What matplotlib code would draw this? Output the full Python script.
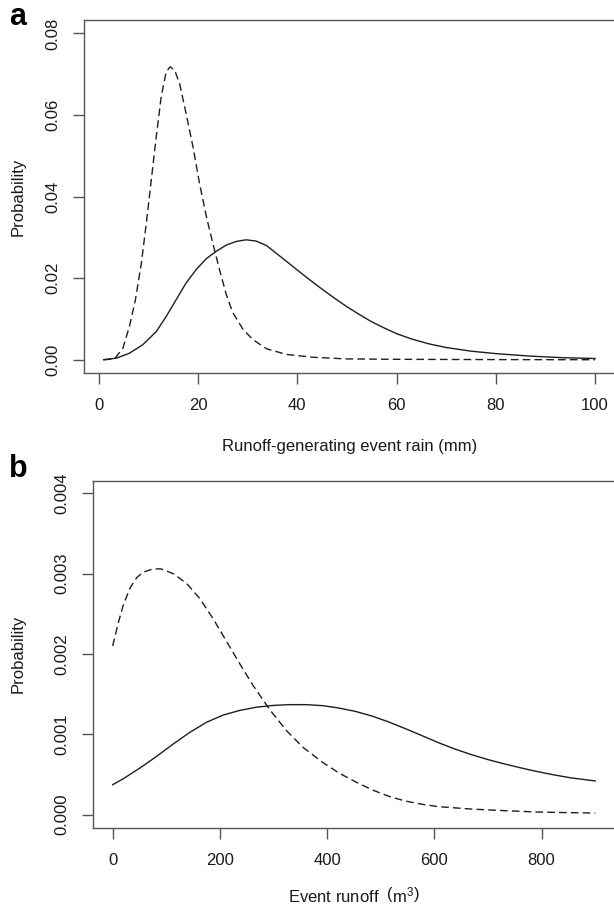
import matplotlib
matplotlib.use("Agg")
import matplotlib.pyplot as plt

plt.rcParams['font.family'] = ['Liberation Sans', 'DejaVu Sans']
plt.rcParams['mathtext.fontset'] = 'custom'
plt.rcParams['mathtext.rm'] = 'Liberation Sans'
plt.rcParams['mathtext.it'] = 'Liberation Sans:italic'

# panel a: runoff-generating event rain (mm)
rain_dash_x = [1, 3.2, 4.9, 6.2, 7.4, 8.6, 9.6, 10.6, 11.6, 12.6, 13.6, 14.4, 15.3, 16.3,
               17.6, 19.0, 20.3, 21.7, 23.0, 24.4, 25.7, 27.0, 29.1, 31.1, 33.8, 37.8,
               43.2, 49.9, 60, 80, 100]
rain_dash_y = [0.0, 0.0002, 0.0029, 0.0082, 0.0147, 0.0237, 0.0335, 0.0441, 0.0547, 0.0645,
               0.0706, 0.0718, 0.0710, 0.0677, 0.0604, 0.0522, 0.0433, 0.0351, 0.0285,
               0.0218, 0.0160, 0.0116, 0.0074, 0.0049, 0.0027, 0.0013, 0.0006, 0.0002,
               0.0001, 0.00003, 0.0]
rain_solid_x = [1, 3.6, 6.2, 8.9, 11.6, 13.6, 15.6, 17.6, 19.7, 21.7, 23.7, 25.7, 27.7, 29.7,
                31.7, 33.8, 36.4, 40, 42.5, 45, 47.5, 50, 52.5, 55, 57.5, 60, 63, 66.5,
                70, 75, 80, 86.7, 93.5, 100]
rain_solid_y = [0.0, 0.0004, 0.0016, 0.0037, 0.0069, 0.0106, 0.0147, 0.0188, 0.0222, 0.0248,
                0.0266, 0.0281, 0.0290, 0.0294, 0.0291, 0.0280, 0.0255, 0.0220, 0.0196,
                0.0173, 0.0151, 0.0130, 0.0111, 0.0093, 0.0078, 0.0064, 0.0051, 0.0039,
                0.0030, 0.0021, 0.0015, 0.0009, 0.0005, 0.0003]

# panel b: event runoff (m3)
runoff_dash_x = [0, 10.5, 19.8, 32.2, 44.7, 57, 75.7, 90, 112.9, 137.7, 162.5, 187.3, 212.1,
                 236.9, 261.7, 292.7, 323.7, 354.7, 391.9, 421.7, 452.6, 483.6, 514.6,
                 545.5, 576.5, 607.4, 669.3, 731.3, 793.2, 855.1, 900]
runoff_dash_y = [0.00210, 0.00239, 0.00261, 0.00282, 0.00295, 0.00302, 0.00306, 0.00306,
                 0.00300, 0.00288, 0.00269, 0.00244, 0.00216, 0.00188, 0.00161, 0.00131,
                 0.00105, 0.00084, 0.00065, 0.00052, 0.00041, 0.00031, 0.00023, 0.00017,
                 0.00013, 0.00010, 0.00007, 0.00005, 0.000033, 0.000025, 0.00002]
runoff_solid_x = [0, 19.8, 50.8, 81.9, 112.9, 143.9, 174.9, 205.9, 236.9, 267.9, 299, 330,
                  361, 392, 421.7, 452.6, 483.6, 514.6, 545.5, 576.5, 607.4, 638.4, 669.3,
                  700.3, 731.3, 762.2, 793.2, 824.2, 855.1, 900]
runoff_solid_y = [0.000373, 0.000448, 0.000581, 0.000726, 0.000880, 0.001025, 0.001150,
                  0.001240, 0.001298, 0.001338, 0.001360, 0.00137, 0.00137, 0.001357,
                  0.001328, 0.001286, 0.001228, 0.001155, 0.001072, 0.000985, 0.000897,
                  0.000817, 0.000747, 0.000685, 0.000631, 0.000581, 0.000535, 0.000494,
                  0.000458, 0.000420]

rain_ticks = [0, 20, 40, 60, 80, 100]
prob_a_ticks = [0.0, 0.02, 0.04, 0.06, 0.08]
runoff_ticks = [0, 200, 400, 600, 800]
prob_b_ticks = [0.0, 0.001, 0.002, 0.003, 0.004]

fig = plt.figure(figsize=(6.14, 9.13), dpi=100)
# box runs just past the right edge of the picture, as in the cropped original
ax1 = fig.add_axes([0.1368, 0.5917, 0.8700, 0.386])
ax2 = fig.add_axes([0.1521, 0.0936, 0.8540, 0.3801])

line_col = '#1e1e1e'
box_col = '#555555'


def r_style(ax, xticks, yticks, yfmt):
    for s in ax.spines.values():
        s.set_color(box_col)
        s.set_linewidth(1.0)
    ax.set_xticks(xticks)
    ax.set_yticks(yticks)
    ax.set_yticklabels([yfmt.format(v) for v in yticks], rotation=90, va='center')
    ax.tick_params(direction='out', length=8, width=1.0, color=box_col,
                   labelsize=12, labelcolor='#1a1a1a')
    ax.tick_params(axis='x', pad=10)
    ax.tick_params(axis='y', pad=9)


ax1.plot(rain_dash_x, rain_dash_y, color=line_col, lw=1.0, dashes=(5.5, 3))
ax1.plot(rain_solid_x, rain_solid_y, color=line_col, lw=1.0)
ax1.set_xlim(1 - 0.04 * 99, 100 + 0.04 * 99 + 0.7)
ax1.set_ylim(-0.04 * 0.08, 0.08 * 1.04)
r_style(ax1, rain_ticks, prob_a_ticks, '{:.2f}')
ax1.set_xlabel('Runoff-generating event rain (mm)', fontsize=12, color='#1a1a1a', va='top')
ax1.xaxis.set_label_coords(0.497, -0.188)
ax1.set_ylabel('Probability', fontsize=12, color='#1a1a1a')
ax1.yaxis.set_label_coords(-0.109, 0.5)

ax2.plot(runoff_dash_x, runoff_dash_y, color=line_col, lw=1.0, dashes=(5.5, 3))
ax2.plot(runoff_solid_x, runoff_solid_y, color=line_col, lw=1.0)
ax2.set_xlim(-0.04 * 900, 900 * 1.04 + 6)
ax2.set_ylim(-0.04 * 0.004, 0.004 * 1.04)
r_style(ax2, runoff_ticks, prob_b_ticks, '{:.3f}')
ax2.set_xlabel(r'Event runoff  $\left(\mathrm{m}^{3}\right)$', fontsize=12, color='#1a1a1a', va='top')
ax2.xaxis.set_label_coords(0.497, -0.168)
ax2.set_ylabel('Probability', fontsize=12, color='#1a1a1a')
ax2.yaxis.set_label_coords(-0.129, 0.5)

fig.text(18 / 614, 1 - 25 / 913, 'a', fontsize=22, fontweight='bold', ha='center', va='baseline')
fig.text(18 / 614, 1 - 477 / 913, 'b', fontsize=22, fontweight='bold', ha='center', va='baseline')

fig.savefig('out.png', dpi=100)
